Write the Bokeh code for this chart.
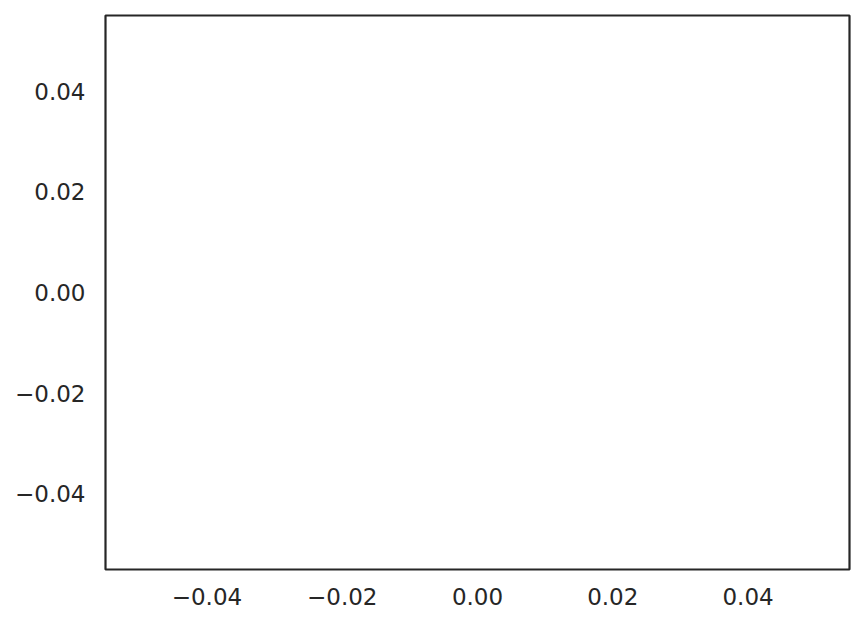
from bokeh.plotting import figure
from bokeh.models import Range1d, FixedTicker, CustomJSTickFormatter, ColumnDataSource
from bokeh.embed import file_html
from bokeh.resources import INLINE

# Data (the reference chart is empty)
x_values = []
y_values = []
x_ticks = [-0.04, -0.02, 0.0, 0.02, 0.04]
y_ticks = [-0.04, -0.02, 0.0, 0.02, 0.04]
x_limits = (-0.055, 0.055)
y_limits = (-0.055, 0.055)

DARK = "#262626"
FONT = "DejaVu Sans"

p = figure(
    output_backend="svg", toolbar_location=None,
    frame_width=744, frame_height=554,
    min_border_left=105, min_border_right=6, min_border_top=15, min_border_bottom=50,
    x_range=Range1d(*x_limits), y_range=Range1d(*y_limits),
    background_fill_color="white", border_fill_color="white",
)

src = ColumnDataSource(dict(x=x_values, y=y_values))
p.scatter("x", "y", source=src, size=6, color="#4c72b0")

p.outline_line_color = DARK
p.outline_line_width = 2.2
p.outline_line_alpha = 1.0
p.grid.visible = False

fmt = CustomJSTickFormatter(code="""
    const s = Math.abs(tick).toFixed(2);
    return (tick < -1e-12 ? "\\u2212" : "") + s;
""")

for ax, ticks, standoff in ((p.xaxis[0], x_ticks, 18), (p.yaxis[0], y_ticks, 20)):
    ax.ticker = FixedTicker(ticks=ticks)
    ax.formatter = fmt
    ax.axis_line_color = None
    ax.major_tick_line_color = None
    ax.minor_tick_line_color = None
    ax.major_tick_in = 0
    ax.major_tick_out = 0
    ax.minor_tick_in = 0
    ax.minor_tick_out = 0
    ax.major_label_standoff = standoff
    ax.major_label_text_font = FONT
    ax.major_label_text_font_size = "23px"
    ax.major_label_text_color = DARK

open("out.html", "w").write(file_html(p, INLINE))
